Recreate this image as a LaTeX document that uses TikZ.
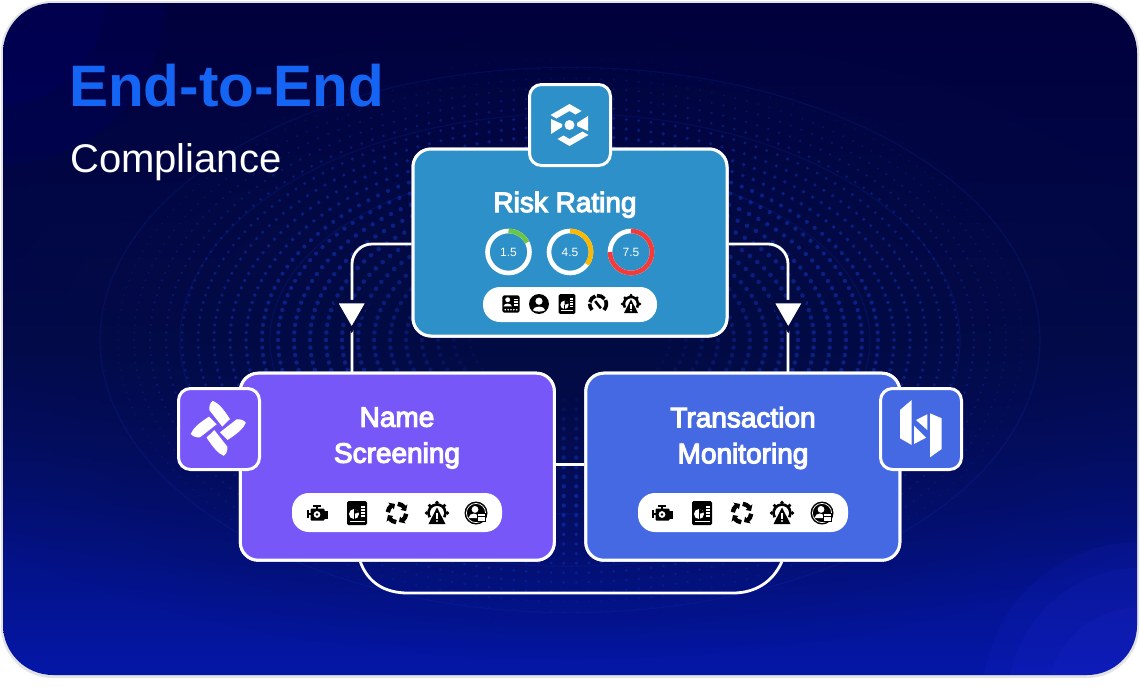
\documentclass[tikz,border=0pt]{standalone}
\usepackage{fontspec}
\setmainfont{Liberation Sans}
\newfontfamily\boxfont[FakeBold=4]{Liberation Sans}
\usetikzlibrary{calc,shapes.geometric,fadings}

\definecolor{cardtop}{HTML}{00003C}
\definecolor{cardmid}{HTML}{020A4C}
\definecolor{cardlow}{HTML}{0417AA}
\definecolor{carddark}{HTML}{030B42}
\definecolor{dotblue}{HTML}{1238C8}
\definecolor{riskblue}{HTML}{2D90C8}
\definecolor{namepurple}{HTML}{7857F8}
\definecolor{monitorblue}{HTML}{4469E3}
\definecolor{titleblue}{HTML}{1565F5}
\definecolor{ringgreen}{HTML}{6CC644}
\definecolor{ringamber}{HTML}{FFB800}
\definecolor{ringred}{HTML}{F53A3A}

\tikzfading[name = middlefade, inner color = transparent!0, outer color = transparent!100]

\tikzset{
	iconid/.pic = {
		\fill[black, rounded corners=1.5] (-9,-9) rectangle (9,9);
		\fill[white] (-3.5,-4.5) circle (2.6);
		\fill[white] (-8,2.5) .. controls (-7,-1.5) and (0,-1.5) .. (1,2.5) -- cycle;
		\foreach \y in {-5,-2,1} {\fill[white] (3,\y-.7) rectangle (7.5,\y+.7);}
		\foreach \x in {-6,-3,0,3,6} {\fill[white] (\x,6) circle (.95);}
	},
	iconuser/.pic = {
		\fill[black] (0,0) circle (10.5);
		\fill[white] (0,-3) circle (3.8);
		\fill[white] (-6.5,6.5) .. controls (-6,1.5) and (6,1.5) .. (6.5,6.5) .. controls (3,8.5) and (-3,8.5) .. cycle;
	},
	iconreport/.pic = {
		\fill[black, rounded corners=1.5] (-10,-12) rectangle (10,12);
		\fill[white] (-3,1) circle (5);
		\fill[black] (-3,1) -- (-3,-4) arc (-90:-20:5) -- cycle;
		\fill[black] (-3.2,1) rectangle (-2.6,6);
		\foreach \y in {-6,-3,0,3} {\fill[white] (4,\y-.8) rectangle (7.5,\y+.8);}
		\fill[white] (-7,7.5) rectangle (7.5,8.8);
	},
	icongauge/.pic = {
		\draw[black, line width=3.6] (135:8.8) arc (135:182:8.8);
		\draw[black, line width=3.6] (192:8.8) arc (192:252:8.8);
		\draw[black, line width=3.6] (262:8.8) arc (262:322:8.8);
		\draw[black, line width=3.6] (332:8.8) arc (332:405:8.8);
		\draw[black, line width=2.6] (-3,-3) -- (3,4.5);
	},
	iconalert/.pic = {
		\draw[black, line width=2.6] (150:8.5) arc (150:390:8.5);
		\foreach \a in {180,225,270,315,360} {\fill[black] (\a:10.5) circle (1.9);}
		\fill[black] (0,-5.5) -- (8.5,11) -- (-8.5,11) -- cycle;
		\fill[white] (-.9,0) rectangle (.9,5.5);
		\fill[white] (0,8) circle (1.1);
	},
	iconengine/.pic = {
		\fill[black, rounded corners=1] (-6.5,-4.5) rectangle (7.5,7.5);
		\fill[black] (-4,-8) rectangle (4,-5.8);
		\fill[black] (-1.2,-6) rectangle (1.2,-4);
		\fill[black] (-10.5,-3.5) rectangle (-8,5);
		\fill[black] (-8.5,-.5) rectangle (-6,2);
		\fill[black] (7,-2) rectangle (10.5,5.5);
		\fill[white] (0,1.5) circle (3.4);
		\fill[black] (0,1.5) circle (1.4);
	},
	iconcycle/.pic = {
		\foreach \a in {0,90,180,270} {
			\draw[black, line width=4.4] (\a+5:9.2) arc (\a+5:\a+55:9.2);
			\fill[black] (\a+50:4.8) -- (\a+50:13.6) -- (\a+78:9.2) -- cycle;
		}
	},
	iconuserbox/.pic = {
		\fill[black] (0,0) circle (11.5);
		\draw[white, line width=.7] (0,0) circle (9.6);
		\fill[white] (-1,-3.6) circle (3.4);
		\fill[white] (-7.5,5) .. controls (-6.5,-1) and (2,-1) .. (3,5) -- cycle;
		\fill[black] (.5,.2) rectangle (10,8.5);
		\fill[white] (1.5,1.2) rectangle (9,7.5);
		\fill[black] (1.5,3.4) rectangle (9,4.2);
	},
}

\begin{document}
\begin{tikzpicture}
	[
	x = {(1pt, 0pt)},
	y = {(0pt, -1pt)},
	card/.style = {draw = white, line width = 3pt, rounded corners = 18pt, minimum width = 314pt, minimum height = 187pt, inner sep = 0pt},
	badge/.style = {draw = white, line width = 3pt, rounded corners = 12pt, minimum width = 81pt, minimum height = 81pt, inner sep = 0pt},
	pill/.style = {fill = white, rounded corners = 17pt, inner sep = 0pt},
	link/.style = {draw = white, line width = 2.8pt},
	arrowtip/.style = {isosceles triangle, isosceles triangle apex angle = 60, shape border rotate = -90, fill = white, draw = carddark, line width = 3.5pt, inner sep = 0pt, minimum size = 28pt},
	boxtext/.style = {text = white, align = center, font = \boxfont\fontsize{28pt}{36pt}\selectfont},
	ringtext/.style = {text = white, font = \fontsize{12pt}{14pt}\selectfont},
	ring/.style = {draw = white, line width = 4.6pt},
	]

	\useasboundingbox (0,0) rectangle (1140,686);

	%% Drawing the background

	\fill[white] (0,0) rectangle (1140,686);
	\draw[draw = black!11, line width = 3pt, rounded corners = 50pt] (2.5,2.5) rectangle (1137.5,676.5);

	\begin{scope}
		\clip[rounded corners = 50pt] (3,3) rectangle (1137,675);
		\shade[top color = cardtop, bottom color = cardlow, middle color = cardmid, shading = axis] (0,0) rectangle (1140,686);
		\fill[carddark, path fading = middlefade] (570,330) ellipse (760 and 330);

		\fill[blue, opacity = .05] (0,0) circle (105);
		\fill[blue, opacity = .05] (0,0) circle (165);
		\fill[blue!80!white, opacity = .08] (1140,700) circle (158);
		\fill[blue!80!white, opacity = .08] (1140,700) circle (132);
		\fill[blue!80!white, opacity = .08] (1140,700) circle (93);

		% rings of dots round the middle
		\foreach \r in {100,116,...,490} {
			\pgfmathsetmacro{\dotsize}{1.2 + 1.1*sin(\r*.42)}
			\pgfmathsetmacro{\dotfade}{.5*sin((\r-70)*.42)}
			\pgfmathsetmacro{\dotstep}{360/int(\r/2.0)}
			\fill[dotblue, opacity = \dotfade, shift = {(570,340)}]
				\foreach \a in {0,\dotstep,...,359} {
					(\a:\r*1 and \r*.6) circle (\dotsize)
				};
		}
		\foreach \r in {300,390,470} {
			\draw[dotblue, opacity = .16, line width = 1.2pt] (570,340) ellipse ({\r} and {\r*.58});
		}
	\end{scope}

	%% Drawing the boxes' anchors

	\node[card, fill = riskblue] (risk) at (570,242.5) {};
	\node[card, fill = namepurple] (screen) at (397.3,466.7) {};
	\node[card, fill = monitorblue] (monitor) at (742.8,466.7) {};

	\coordinate (screentop) at (352,373);
	\coordinate (monitortop) at (788,373);
	\coordinate (screenfoot) at ($(screen.south)+(-37,0)$);
	\coordinate (monitorfoot) at ($(monitor.south)+(39,0)$);

	%% Drawing the connectors

	\draw[link, rounded corners = 20pt] ([yshift = -1.5pt]risk.west) -| (screentop);
	\draw[link, rounded corners = 20pt] ([yshift = -1.5pt]risk.east) -| (monitortop);
	\draw[link] ([yshift = 2pt]screen.east) -- ([yshift = 2pt]monitor.west);
	\draw[link] (screenfoot) .. controls (368,583) and (385,593) .. (408,593) -- (733,593) .. controls (755,593) and (773,582) .. (monitorfoot);

	\node[arrowtip] (arrowleft) at (351.7,311) {};
	\node[arrowtip] (arrowright) at (788.3,311) {};

	%% Drawing the boxes in the front

	\node[card, fill = riskblue] at (risk) {};
	\node[card, fill = namepurple] at (screen) {};
	\node[card, fill = monitorblue] at (monitor) {};

	\node[badge, fill = riskblue] (riskbadge) at (570,125) {};
	\node[badge, fill = namepurple] (screenbadge) at (219,429) {};
	\node[badge, fill = monitorblue] (monitorbadge) at (921,429) {};

	%% Drawing the logos

	\begin{scope}[shift = {(569.5,125)}, white]
		\fill (-19,-10) -- (0,-21) -- (12,-14) -- (6,-10.5) -- (0,-14) -- (-13,-6.5) -- cycle;
		\fill (19,10) -- (0,21) -- (-12,14) -- (-6,10.5) -- (0,14) -- (13,6.5) -- cycle;
		\fill (18.5,-9) -- (18.5,6) -- (7.5,1) -- (7.5,-2) -- cycle;
		\fill (-18.5,9) -- (-18.5,-6) -- (-7.5,-1) -- (-7.5,2) -- cycle;
		\fill (0,0) circle (5);
	\end{scope}

	\begin{scope}[shift = {(218.3,428.3)}, white]
		\foreach \a in {0,90,180,270} {
			\begin{scope}[rotate = \a]
				\fill (4,-1.7) -- (-9,-18.3) .. controls (-9.5,-22) and (-8,-26) .. (-5.5,-27.5) .. controls (0,-25) and (4,-21) .. (11.7,-9.3) -- cycle;
			\end{scope}
		}
	\end{scope}

	\fill[white] (900,410) -- (911.7,400) -- (911.7,445) -- (900,438.3) -- cycle;
	\fill[white] (930,413.3) -- (941.7,418.3) -- (941.7,449) -- (930,457.3) -- cycle;
	\fill[white] (916,420) -- (927.3,414.3) -- (927.3,430) -- cycle;
	\fill[white] (914,425.7) -- (926,437.7) -- (914,444) -- cycle;

	%% Drawing the texts

	\node[anchor = base west, inner sep = 0pt, text = titleblue, font = \bfseries\fontsize{58.5pt}{60pt}\selectfont] (title) at (69,106) {End-to-End};
	\node[anchor = base west, inner sep = 0pt, text = white, font = \fontsize{40pt}{42pt}\selectfont] (subtitle) at (70,172.5) {Compliance};

	\node[boxtext, anchor = base] (risktext) at (565,212) {Risk Rating};
	\node[boxtext] (screentext) at (397,438) {Name\\Screening};
	\node[boxtext] (monitortext) at (743,438) {Transaction\\Monitoring};

	%% Drawing the score rings

	\foreach \x/\val [count = \i] in {508.5/1.5, 570/4.5, 631/7.5} {
		\draw[ring] (\x,252) circle (21);
		\node[ringtext] (score\i) at (\x,252) {\val};
	}
	\draw[ring, ringgreen] (508.5,231) arc (-90:-27:21);
	\draw[ring, ringamber] (570,231) arc (-90:36:21);
	\draw[ring, ringred] (631,231) arc (-90:180:21);

	%% Drawing the pills and their icons

	\node[pill, minimum width = 174pt, minimum height = 35pt] (riskpill) at (570,304.5) {};
	\node[pill, minimum width = 210pt, minimum height = 39pt] (screenpill) at (397,512.5) {};
	\node[pill, minimum width = 210pt, minimum height = 39pt] (monitorpill) at (743,512.5) {};

	\pic[scale = .95] at (511,304) {iconid};
	\pic[scale = .95] at (539,304) {iconuser};
	\pic[scale = .83] at (567,304) {iconreport};
	\pic[scale = .95] at (598,304) {icongauge};
	\pic[scale = .83] at (631,304) {iconalert};

	\pic at (317,513) {iconengine};
	\pic at (357,513) {iconreport};
	\pic at (397,513) {iconcycle};
	\pic at (437,513) {iconalert};
	\pic at (476,513) {iconuserbox};

	\pic at (662,513) {iconengine};
	\pic at (702,513) {iconreport};
	\pic at (742,513) {iconcycle};
	\pic at (782,513) {iconalert};
	\pic at (822,513) {iconuserbox};
\end{tikzpicture}
\end{document}
